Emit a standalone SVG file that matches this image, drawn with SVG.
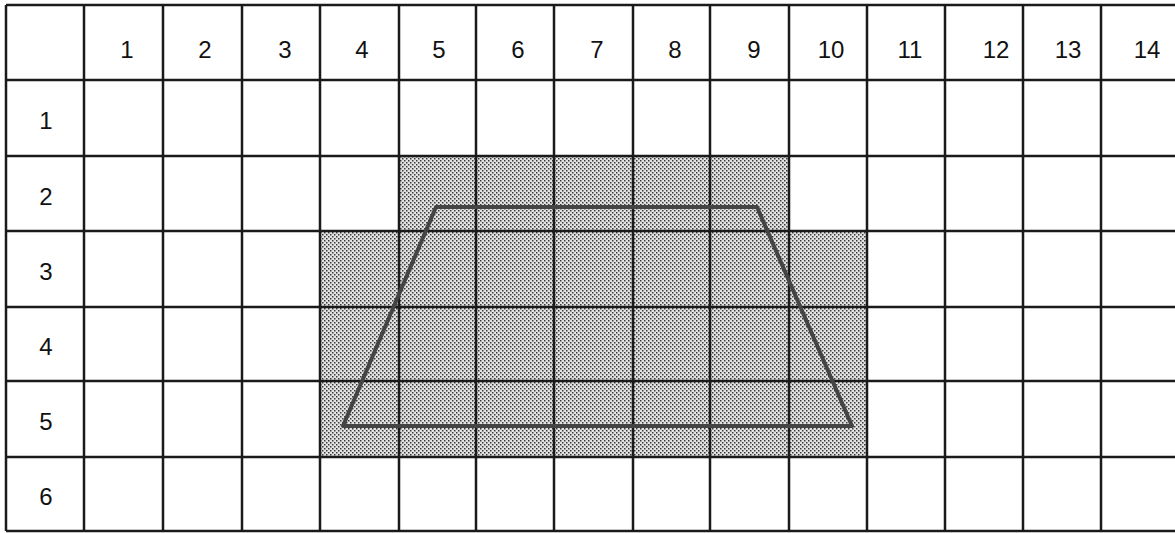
<svg xmlns="http://www.w3.org/2000/svg" width="1175" height="533" viewBox="0 0 1175 533">
<style>
.g{stroke:#1a1a1a;stroke-width:2.5;fill:none}
.t{font-family:"Liberation Sans",Arial,sans-serif;font-size:24px;fill:#111;text-anchor:middle}
</style>
<defs>
<pattern id="dots" width="4" height="4" patternUnits="userSpaceOnUse">
<rect width="4" height="4" fill="#e2e2e2"/>
<rect x="0" y="0" width="1.5" height="1.5" fill="#3a3a3a"/>
<rect x="2" y="2" width="1.5" height="1.5" fill="#3a3a3a"/>
</pattern>
</defs>
<rect width="1175" height="533" fill="#fff"/>
<g id="shading">
<rect x="399" y="156" width="390" height="75" fill="url(#dots)"/>
<rect x="320" y="231" width="547" height="226" fill="url(#dots)"/>
</g>
<g id="grid" class="g">
<path d="M6 5V531M84 5V531M163 5V531M242 5V531M320 5V531M399 5V531M476 5V531M554 5V531M633 5V531M710 5V531M789 5V531M867 5V531M945 5V531M1023 5V531M1101 5V531"/>
<path d="M6 5H1175M6 80H1175M6 156H1175M6 231H1175M6 307H1175M6 381H1175M6 457H1175M6 531H1175"/>
</g>
<g id="trapezoid">
<polygon points="436,207 757,207 852,426 343,426" fill="none" stroke="#444" stroke-width="4" stroke-linejoin="round"/>
</g>
<g id="header" class="t">
<text x="127" y="58">1</text>
<text x="205" y="58">2</text>
<text x="285" y="58">3</text>
<text x="362" y="58">4</text>
<text x="439" y="58">5</text>
<text x="518" y="58">6</text>
<text x="597" y="58">7</text>
<text x="675" y="58">8</text>
<text x="754" y="58">9</text>
<text x="831" y="58">10</text>
<text x="910" y="58">11</text>
<text x="996" y="58">12</text>
<text x="1068" y="58">13</text>
<text x="1147" y="58">14</text>
</g>
<g id="rows" class="t">
<text x="46" y="129">1</text>
<text x="46" y="205">2</text>
<text x="46" y="280">3</text>
<text x="46" y="355">4</text>
<text x="46" y="430">5</text>
<text x="46" y="505">6</text>
</g>
</svg>
